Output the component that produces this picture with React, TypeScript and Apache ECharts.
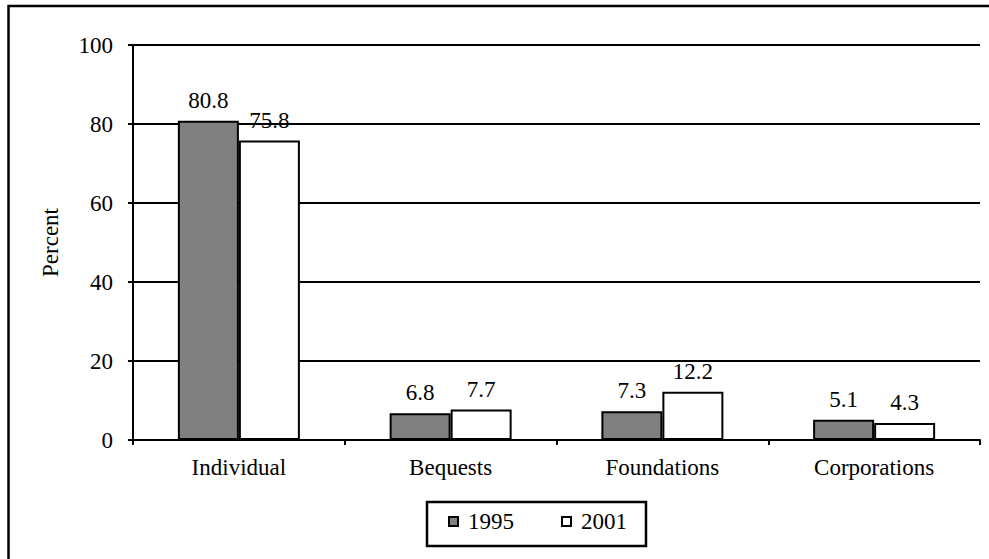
import React, { useEffect, useRef } from "react";
import * as echarts from "echarts";

const categories = ["Individual", "Bequests", "Foundations", "Corporations"];
const series1995 = [80.8, 6.8, 7.3, 5.1];
const series2001 = [75.8, 7.7, 12.2, 4.3];
const seriesNames = ["1995", "2001"];
const yTicks = { min: 0, max: 100, interval: 20 };

const FONT = "Liberation Serif";
const FS = 23;

export default function App() {
  const ref = useRef<HTMLDivElement>(null);
  useEffect(() => {
    if (!ref.current) return;
    const chart = echarts.init(ref.current, undefined, { renderer: "svg" });
    const labelStyle = {
      show: true,
      position: "top" as const,
      distance: 9,
      color: "#000",
      fontSize: FS,
      fontFamily: FONT,
    };
    chart.setOption({
      animation: false,
      backgroundColor: "#fff",
      textStyle: { fontFamily: FONT, color: "#000" },
      grid: { left: 133, right: 9, top: 45, bottom: 119, containLabel: false },
      graphic: [
        {
          type: "rect",
          shape: { x: 8.5, y: 6, width: 1100, height: 700 },
          style: { fill: "none", stroke: "#000", lineWidth: 2.5 },
          z: 100,
        },
        {
          type: "rect",
          shape: { x: 427, y: 502, width: 219, height: 44 },
          style: { fill: "none", stroke: "#000", lineWidth: 2.5 },
          z: 100,
        },
      ],
      legend: {
        data: seriesNames,
        left: 448,
        top: 510,
        padding: 0,
        itemGap: 47,
        itemWidth: 9,
        itemHeight: 9,
        icon: "rect",
        textStyle: {
          fontSize: FS,
          fontFamily: FONT,
          color: "#000",
          padding: [0, 0, 0, 5],
        },
      },
      xAxis: {
        type: "category",
        data: categories,
        axisLine: { show: true, lineStyle: { color: "#000", width: 2 } },
        axisTick: { show: true, length: 5, lineStyle: { color: "#000", width: 2 } },
        axisLabel: { color: "#000", fontSize: FS, fontFamily: FONT, margin: 16 },
      },
      yAxis: {
        type: "value",
        min: yTicks.min,
        max: yTicks.max,
        interval: yTicks.interval,
        name: "Percent",
        nameLocation: "middle",
        nameGap: 71,
        nameRotate: 90,
        nameTextStyle: { color: "#000", fontSize: FS, fontFamily: FONT },
        axisLine: { show: true, lineStyle: { color: "#000", width: 2 } },
        axisTick: { show: true, length: 5, lineStyle: { color: "#000", width: 2 } },
        axisLabel: { color: "#000", fontSize: FS, fontFamily: FONT, margin: 20 },
        splitLine: { show: true, lineStyle: { color: "#000", width: 2 } },
      },
      series: [
        {
          name: seriesNames[0],
          type: "bar",
          data: series1995,
          barGap: "0%",
          barWidth: 61,
          itemStyle: { color: "#808080", borderColor: "#000", borderWidth: 2 },
          label: labelStyle,
        },
        {
          name: seriesNames[1],
          type: "bar",
          data: series2001,
          barGap: "0%",
          barWidth: 61,
          itemStyle: { color: "#ffffff", borderColor: "#000", borderWidth: 2 },
          label: labelStyle,
        },
      ],
    });
    return () => chart.dispose();
  }, []);
  return (
    <div
      ref={ref}
      style={{ position: "fixed", left: 0, top: 0, width: 989, height: 559, background: "#fff" }}
    />
  );
}
